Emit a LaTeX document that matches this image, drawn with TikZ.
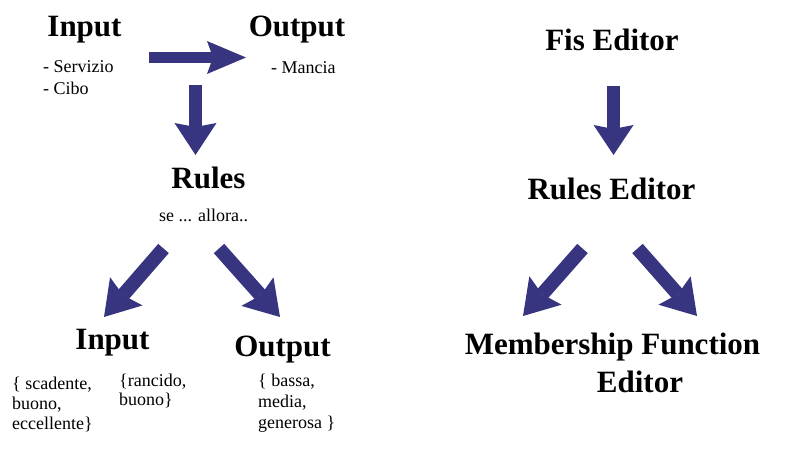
\documentclass[tikz,border=0pt]{standalone}
\usepackage{fontspec}
\setmainfont{Liberation Serif}
\usetikzlibrary{arrows.meta}
\definecolor{navy}{RGB}{56,53,128}
\tikzset{
  title/.style={font=\fontsize{31}{31}\bfseries\selectfont, text=black, inner sep=0pt, anchor=base},
  body/.style={font=\fontsize{18}{20}\selectfont, text=black, inner sep=0pt, anchor=base west, align=left},
  fatarrow/.style n args={4}{draw=navy, line width=#1,
    -{Stealth[length=#2, width=#3, inset=#4, line width=0pt, fill=navy]}},
}
\begin{document}
\begin{tikzpicture}[x=1pt,y=-1pt]
\useasboundingbox (0,0) rectangle (788,454);
% left part, top
\node[title] (inA) at (84.5,37) {Input};
\node[title] (outA) at (297,37) {Output};
\node[body, font=\fontsize{18}{22}\selectfont] (inAl) at (43,95) {- Servizio\\- Cibo};
\node[body] (outAl) at (271,74) {- Mancia};
\node[title] (rules) at (208.5,189) {Rules};
\node[body] (rulesl) at (159,222) {se ... allora..};
% left part, bottom
\node[title] (inB) at (112.5,350) {Input};
\node[title] (outB) at (282.5,357) {Output};
\node[body] (inB1) at (12,430) {\{ scadente,\\buono,\\eccellente\}};
\node[body, font=\fontsize{18}{19}\selectfont] (inB2) at (119,406) {\{rancido,\\buono\}};
\node[body, font=\fontsize{18}{21}\selectfont] (outBl) at (258,429) {\{ bassa,\\media,\\generosa \}};
% right part
\node[title] (fis) at (612,51) {Fis Editor};
\node[title] (redit) at (611.5,200) {Rules Editor};
\node[title] (mf) at (612.5,355) {Membership Function};
\node[title] (mf2) at (640,393) {Editor};
% arrow ends
\coordinate (a1s) at (149,57.5);   \coordinate (a1e) at (246,57.5);
\coordinate (a2s) at (195.5,85);   \coordinate (a2e) at (195.5,155);
\coordinate (a3s) at (163.5,248.5); \coordinate (a3e) at (104,317);
\coordinate (a4s) at (219,248.5);  \coordinate (a4e) at (280,317);
\coordinate (b1s) at (613.5,86);   \coordinate (b1e) at (613.5,155);
\coordinate (b2s) at (582.5,248.5); \coordinate (b2e) at (523,316);
\coordinate (b3s) at (637.5,248.5); \coordinate (b3e) at (697,316);
\draw[fatarrow={11pt}{39pt}{33pt}{6pt}] (a1s) -- (a1e);
\draw[fatarrow={13pt}{32pt}{42pt}{4pt}] (a2s) -- (a2e);
\draw[fatarrow={14pt}{34pt}{43pt}{5pt}] (a3s) -- (a3e);
\draw[fatarrow={14pt}{34pt}{43pt}{5pt}] (a4s) -- (a4e);
\draw[fatarrow={13pt}{30pt}{40pt}{4pt}] (b1s) -- (b1e);
\draw[fatarrow={14pt}{34pt}{43pt}{5pt}] (b2s) -- (b2e);
\draw[fatarrow={14pt}{34pt}{43pt}{5pt}] (b3s) -- (b3e);
\end{tikzpicture}
\end{document}
